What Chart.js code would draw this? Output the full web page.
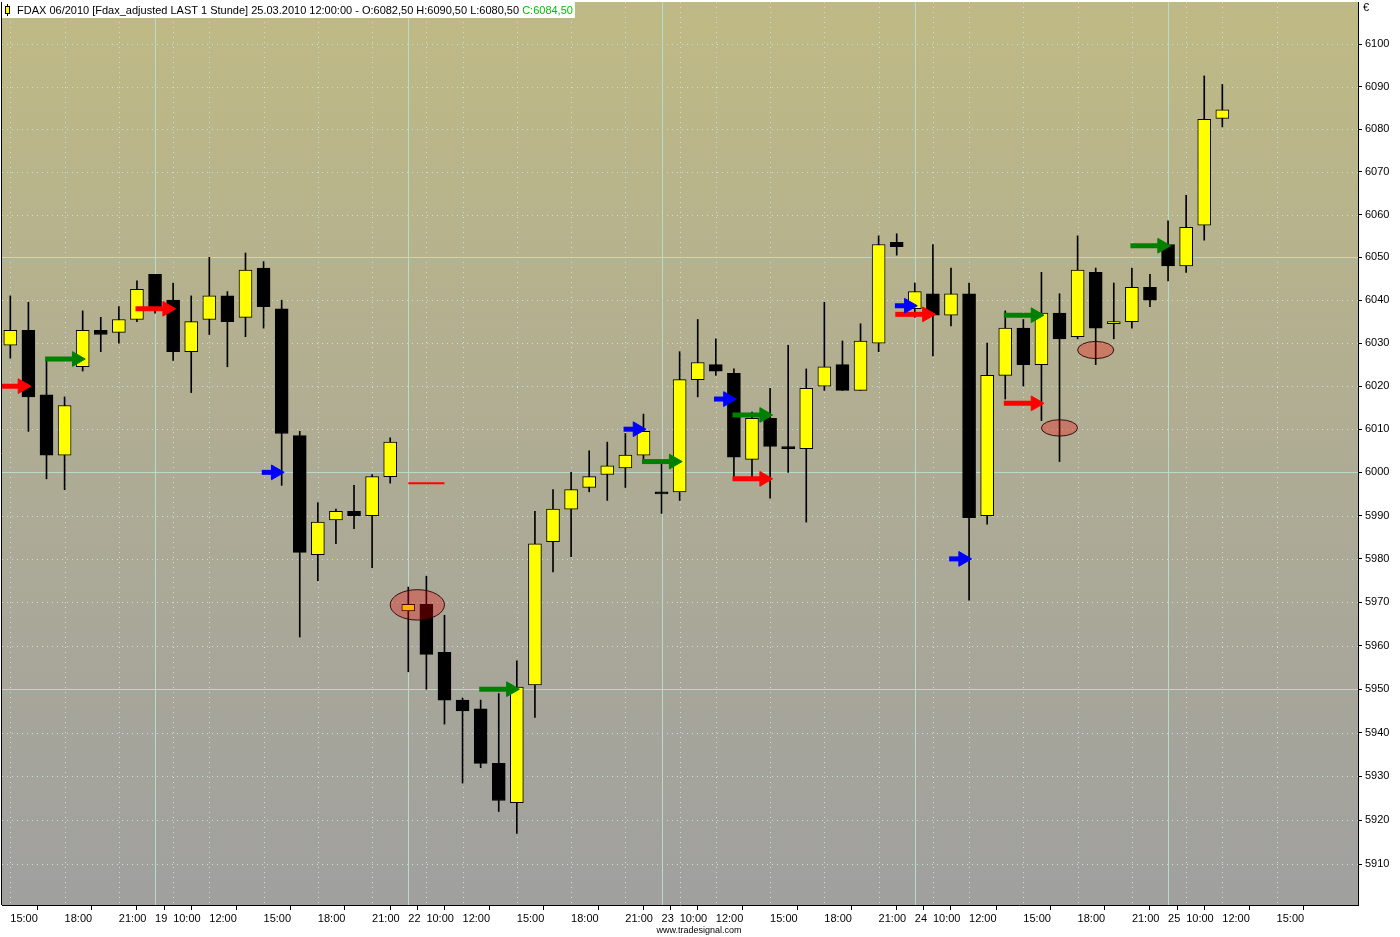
<!DOCTYPE html>
<html>
<head>
<meta charset="utf-8">
<script src="https://cdn.jsdelivr.net/npm/chart.js@4.4.1/dist/chart.umd.min.js"></script>
<style>
  html, body { margin: 0; padding: 0; background: #fff; }
  canvas { display: block; }
</style>
</head>
<body>
<canvas id="fdax" width="1400" height="937"></canvas>
<script>
// hourly candles, 18.03 15:00 .. 25.03 12:00 (index 0..67)
var opens  = [6029.5, 6033, 6018, 6004, 6024.5, 6033, 6032.5, 6035.5, 6046, 6040, 6028, 6035.5, 6041, 6036, 6047.5, 6038, 6008.5, 5981, 5989, 5991,
              5990, 5999, 5968, 5969.5, 5958.5, 5947.5, 5945.5, 5933, 5924, 5951, 5984, 5991.5, 5996.5, 5999.5, 6001, 6004, 5995.5, 5995.5, 6021.5, 6025,
              6023, 6003, 6012.5, 6006, 6005.5, 6020, 6025, 6019, 6030, 6053.5, 6038, 6041.5, 6036.5, 6041.5, 5990, 6022.5, 6033.5, 6025, 6037, 6031.5,
              6046.5, 6034.5, 6035, 6043, 6053, 6048, 6057.5, 6082.5];
var highs  = [6041, 6039.5, 6026, 6017.5, 6037.5, 6036, 6038.5, 6044.5, 6046, 6044, 6041, 6050, 6042, 6051, 6049, 6040, 6009.5, 5993, 5991.5, 5997,
              5999.5, 6008, 5973.5, 5976, 5967, 5948, 5947.5, 5949, 5956.5, 5991, 5996, 6000, 6005, 6007, 6009, 6013.5, 6002.5, 6028, 6035.5, 6031,
              6024, 6014, 6019.5, 6029.5, 6024, 6039.5, 6030.5, 6034.5, 6055, 6055.5, 6044, 6053, 6047.5, 6044, 6030, 6037.5, 6035.5, 6046.5, 6041.5, 6055,
              6047.5, 6044, 6047.5, 6046, 6058.5, 6064.5, 6092.5, 6090.5];
var lows   = [6026.5, 6009.5, 5998.5, 5996, 6023.5, 6028, 6030, 6035, 6037, 6026, 6018.5, 6032, 6024.5, 6031.5, 6033.5, 5997, 5962, 5975, 5983.5, 5987,
              5978, 5997.5, 5954, 5950, 5942, 5928.5, 5932, 5922, 5917, 5943.5, 5977, 5980.5, 5995.5, 5993.5, 5996.5, 6002.5, 5990.5, 5993.5, 6017.5, 6022.5,
              5998.5, 5998.5, 5994, 6000, 5988.5, 6019, 6019, 6019, 6028, 6050.5, 6036, 6027, 6034, 5970.5, 5988, 6017, 6020, 6012, 6002.5, 6031,
              6025, 6031, 6033.5, 6038.5, 6044.5, 6046.5, 6054, 6080.5];
var closes = [6033, 6017.5, 6004, 6015.5, 6033, 6032, 6035.5, 6042.5, 6038.5, 6028, 6035, 6041, 6035, 6047, 6038.5, 6009, 5981.5, 5988.5, 5991, 5990,
              5999, 6007, 5969.5, 5958, 5947.5, 5945, 5933, 5924.5, 5950.5, 5983.5, 5991.5, 5996, 5999, 6001.5, 6004, 6009.5, 5995, 6021.5, 6025.5, 6023.5,
              6003.5, 6012.5, 6006, 6005.5, 6019.5, 6024.5, 6019, 6030.5, 6053, 6052.5, 6042, 6036.5, 6041.5, 5989.5, 6022.5, 6033.5, 6025, 6037, 6031, 6047,
              6033.5, 6035, 6043, 6040, 6048, 6057, 6082.3, 6084.5];

// time axis
var xTickIdx    = [0, 3, 6, 8, 9, 11, 14, 17, 20, 22, 23, 25, 28, 31, 34, 36, 37, 39, 42, 45, 48, 50, 51, 53, 56, 59, 62, 64, 65, 67, 70];
var xTickLabels = ['15:00', '18:00', '21:00', '19', '10:00', '12:00', '15:00', '18:00', '21:00', '22', '10:00', '12:00', '15:00', '18:00', '21:00',
                   '23', '10:00', '12:00', '15:00', '18:00', '21:00', '24', '10:00', '12:00', '15:00', '18:00', '21:00', '25', '10:00', '12:00', '15:00'];
var dayTicks    = [8, 22, 36, 50, 64];
var yTicks      = [5910, 5920, 5930, 5940, 5950, 5960, 5970, 5980, 5990, 6000, 6010, 6020, 6030, 6040, 6050, 6060, 6070, 6080, 6090, 6100];
var yMajor      = [5950, 6000, 6050];

// signal arrows: bar they point at, price, colour
var arrowBar   = [1, 4, 9, 15, 28, 35, 37, 40, 42, 42, 50, 51, 53, 57, 57, 64];
var arrowPrice = [6020, 6026.3, 6038, 6000, 5950, 6010, 6002.5, 6017, 6013.3, 5998.5, 6038.7, 6036.7, 5980, 6036.5, 6016, 6052.7];
var arrowColor = ['red', 'green', 'red', 'blue', 'green', 'blue', 'green', 'blue', 'green', 'red', 'blue', 'red', 'blue', 'green', 'red', 'green'];

// highlighted zones (centre bar, centre price, half width in bars, half height in points)
var ovalBar   = [22.5, 60, 58];
var ovalPrice = [5969.4, 6028.4, 6010.3];
var ovalW     = [1.5, 1.0, 1.0];
var ovalH     = [3.5, 2.0, 1.9];

// red level line
var levelFrom = 22, levelTo = 24, levelPrice = 5997.5;

var titleText = 'FDAX 06/2010 [Fdax_adjusted LAST 1 Stunde] 25.03.2010 12:00:00 - ';

var FONT = '"Liberation Sans", Arial, sans-serif';
Chart.defaults.font.family = FONT;
Chart.defaults.font.size = 11;
Chart.defaults.color = '#000';

var idx = opens.map((o, i) => i);
var bodyColor = idx.map(i => closes[i] >= opens[i] ? '#ffff00' : '#000000');
var colours = { red: '#ff0000', green: '#008000', blue: '#0000ff' };

var arrowSets = arrowBar.map(function (b, k) {
  var tip = b + 0.14;
  var len = arrowColor[k] == 'blue' ? 1.24 : 2.22;
  var c = colours[arrowColor[k]];
  return {
    type: 'line',
    data: [{ x: tip - len, y: arrowPrice[k] }, { x: tip - 0.47, y: arrowPrice[k] }],
    borderColor: c,
    borderWidth: 5,
    pointRadius: [0, 8.5],
    pointStyle: 'triangle',
    pointRotation: 90,
    pointBackgroundColor: c,
    pointBorderColor: c,
    pointBorderWidth: 1,
    clip: 0,
    order: 0
  };
});

function fmt(v) { return v.toFixed(2).replace('.', ','); }

var backdrop = {
  id: 'backdrop',
  beforeDraw(chart) {
    var ctx = chart.ctx, a = chart.chartArea, xs = chart.scales.x, ys = chart.scales.y;
    ctx.save();
    var g = ctx.createLinearGradient(0, a.top, 0, a.bottom);
    g.addColorStop(0, '#bfba84');
    g.addColorStop(0.5, '#afac94');
    g.addColorStop(1, '#a0a09f');
    ctx.fillStyle = g;
    ctx.fillRect(a.left, a.top, a.right - a.left, a.bottom - a.top);
    ctx.lineWidth = 1;
    yTicks.forEach(function (v) {
      var py = Math.round(ys.getPixelForValue(v)) + 0.5;
      var solid = yMajor.indexOf(v) >= 0;
      ctx.strokeStyle = solid ? '#b8dccb' : '#c6e2d6';
      ctx.setLineDash(solid ? [] : [1, 4]);
      ctx.beginPath(); ctx.moveTo(a.left, py); ctx.lineTo(a.right, py); ctx.stroke();
    });
    xTickIdx.forEach(function (v) {
      var px = Math.round(xs.getPixelForValue(v)) + 0.5;
      var solid = dayTicks.indexOf(v) >= 0;
      ctx.strokeStyle = solid ? '#b8dccb' : '#c6e2d6';
      ctx.setLineDash(solid ? [] : [1, 4]);
      ctx.beginPath(); ctx.moveTo(px, a.top); ctx.lineTo(px, a.bottom); ctx.stroke();
    });
    ctx.restore();
  },
  afterDatasetsDraw(chart) {
    var ctx = chart.ctx, xs = chart.scales.x, ys = chart.scales.y;
    ctx.save();
    ovalBar.forEach(function (b, k) {
      var cx = xs.getPixelForValue(b), cy = ys.getPixelForValue(ovalPrice[k]);
      var rx = xs.getPixelForValue(b + ovalW[k]) - cx;
      var ry = ys.getPixelForValue(ovalPrice[k] - ovalH[k]) - cy;
      ctx.beginPath();
      ctx.ellipse(cx, cy, rx, ry, 0, 0, Math.PI * 2);
      ctx.fillStyle = 'rgba(250,0,0,0.3)';
      ctx.fill();
      ctx.strokeStyle = 'rgba(40,0,0,0.9)';
      ctx.lineWidth = 1;
      ctx.stroke();
    });
    ctx.restore();
  },
  afterDraw(chart) {
    var ctx = chart.ctx, a = chart.chartArea;
    ctx.save();
    // left frame line
    ctx.strokeStyle = '#000';
    ctx.lineWidth = 1;
    ctx.beginPath(); ctx.moveTo(a.left - 0.5, a.top); ctx.lineTo(a.left - 0.5, a.bottom); ctx.stroke();

    // title box
    var n = closes.length - 1;
    var t1 = titleText + 'O:' + fmt(opens[n]) + ' H:' + fmt(highs[n]) + ' L:' + fmt(lows[n]) + ' ';
    var t2 = 'C:' + fmt(closes[n]);
    ctx.font = '11px ' + FONT;
    var w1 = ctx.measureText(t1).width, w2 = ctx.measureText(t2).width;
    ctx.fillStyle = '#fff';
    ctx.fillRect(2, 2, 17 + w1 + w2, 16);
    // little candle icon
    ctx.fillStyle = '#000';
    ctx.fillRect(7, 4, 1, 12);
    ctx.fillRect(5, 6, 5, 8);
    ctx.fillStyle = '#ffff00';
    ctx.fillRect(6, 7, 3, 6);
    ctx.textBaseline = 'middle';
    ctx.fillStyle = '#000';
    ctx.fillText(t1, 17, 10.5);
    ctx.fillStyle = '#00c000';
    ctx.fillText(t2, 17 + w1, 10.5);

    // currency mark
    ctx.fillStyle = '#000';
    ctx.fillText('€', 1363, 8);

    // footer
    ctx.font = '9px ' + FONT;
    ctx.textAlign = 'center';
    ctx.fillText('www.tradesignal.com', 699, 931);
    ctx.restore();
  }
};

new Chart('fdax', {
  type: 'bar',
  data: {
    datasets: [
      {
        // wicks
        data: idx.map(i => ({ x: i, y: [lows[i], highs[i]] })),
        backgroundColor: '#000',
        barThickness: 1,
        grouped: false,
        order: 3
      },
      {
        // bodies
        data: idx.map(i => ({ x: i, y: [opens[i], closes[i]] })),
        backgroundColor: bodyColor,
        borderColor: '#000',
        borderWidth: 1,
        borderSkipped: false,
        barThickness: 13,
        grouped: false,
        order: 2
      },
      {
        type: 'line',
        data: [{ x: levelFrom, y: levelPrice }, { x: levelTo, y: levelPrice }],
        borderColor: '#ff0000',
        borderWidth: 2,
        pointRadius: 0,
        order: 1
      }
    ].concat(arrowSets)
  },
  options: {
    responsive: false,
    animation: false,
    events: [],
    layout: { autoPadding: false, padding: { left: 2, top: 2, right: 0, bottom: 0 } },
    plugins: {
      legend: { display: false },
      tooltip: { enabled: false }
    },
    scales: {
      x: {
        type: 'linear',
        min: -0.46,
        max: 74.5,
        offset: false,
        afterFit: s => { s.height = 32; s.paddingLeft = 0; s.paddingRight = 0; },
        afterBuildTicks: s => { s.ticks = xTickIdx.map(v => ({ value: v })); },
        grid: { drawOnChartArea: false, drawTicks: true, tickLength: 5, tickColor: '#000' },
        border: { color: '#000' },
        ticks: {
          autoSkip: false,
          maxRotation: 0,
          align: 'start',
          padding: 2,
          callback: (v, i) => xTickLabels[i]
        }
      },
      y: {
        type: 'logarithmic',
        position: 'right',
        min: 5900.66,
        max: 6109.9,
        afterFit: s => { s.width = 42; s.paddingTop = 0; s.paddingBottom = 0; },
        afterBuildTicks: s => { s.ticks = yTicks.map(v => ({ value: v })); },
        grid: { drawOnChartArea: false, drawTicks: true, tickLength: 4, tickColor: '#000' },
        border: { color: '#000' },
        ticks: { padding: 3, autoSkip: false, callback: v => String(v) }
      }
    }
  },
  plugins: [backdrop]
});
</script>
</body>
</html>
